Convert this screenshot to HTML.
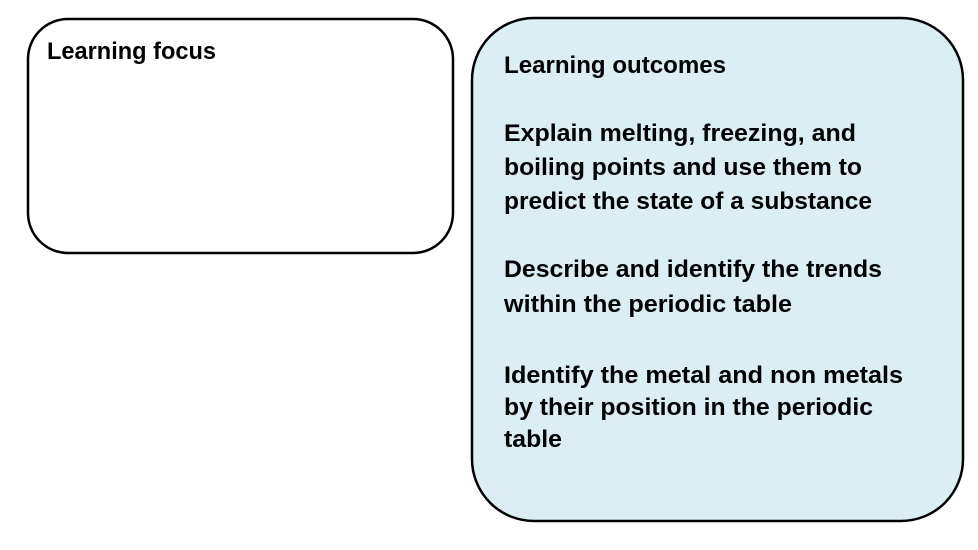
<!DOCTYPE html>
<html><head><meta charset="utf-8"><style>
html,body{margin:0;padding:0;background:#fff;width:978px;height:550px;overflow:hidden}
text{font-family:"Liberation Sans",sans-serif;font-weight:bold;font-size:24px;fill:#000}
</style></head><body>
<svg width="978" height="550" viewBox="0 0 978 550" xmlns="http://www.w3.org/2000/svg">
<rect x="28" y="19" width="425" height="234" rx="40" ry="40" fill="#fff" stroke="#000" stroke-width="2.5"/>
<rect x="472" y="18" width="491" height="503" rx="62" ry="62" fill="#dbeef3" stroke="#000" stroke-width="2.5"/>
<text x="47" y="59" textLength="169" lengthAdjust="spacingAndGlyphs">Learning focus</text>
<text x="504" y="73" textLength="222" lengthAdjust="spacingAndGlyphs">Learning outcomes</text>
<text x="504" y="141" textLength="352" lengthAdjust="spacingAndGlyphs">Explain melting, freezing, and</text>
<text x="504" y="175" textLength="358" lengthAdjust="spacingAndGlyphs">boiling points and use them to</text>
<text x="504" y="209" textLength="368" lengthAdjust="spacingAndGlyphs">predict the state of a substance</text>
<text x="504" y="277" textLength="378" lengthAdjust="spacingAndGlyphs">Describe and identify the trends</text>
<text x="504" y="312" textLength="288" lengthAdjust="spacingAndGlyphs">within the periodic table</text>
<text x="504" y="383" textLength="399" lengthAdjust="spacingAndGlyphs">Identify the metal and non metals</text>
<text x="504" y="415" textLength="369" lengthAdjust="spacingAndGlyphs">by their position in the periodic</text>
<text x="504" y="447" textLength="58" lengthAdjust="spacingAndGlyphs">table</text>
</svg>
</body></html>
